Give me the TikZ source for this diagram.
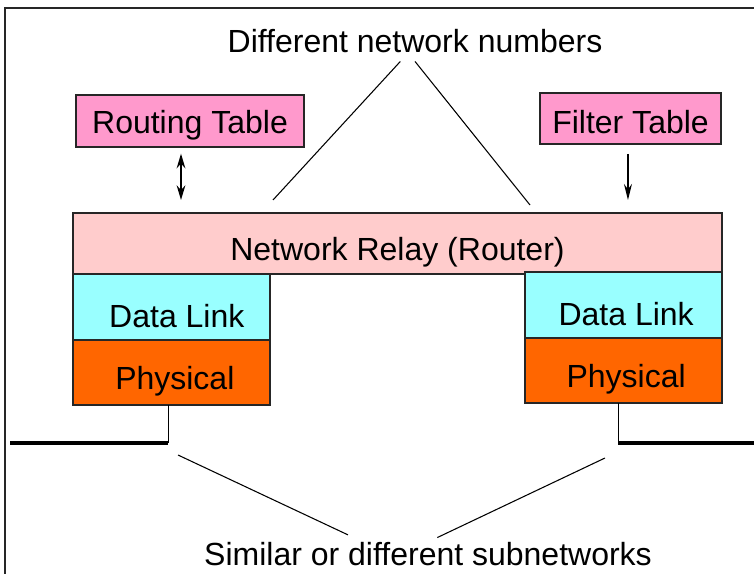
\documentclass[tikz,border=0pt]{standalone}
\usepackage{fontspec}
\setmainfont{Liberation Sans}
\usetikzlibrary{arrows.meta}
\definecolor{tablepink}{HTML}{FF99CC}
\definecolor{relaypink}{HTML}{FFCCCC}
\definecolor{dlcyan}{HTML}{99FFFF}
\definecolor{phyorange}{HTML}{FF6600}
\newcommand\lowered[2]{\raisebox{-#1}[\height][\depth]{#2}}
\begin{document}
\begin{tikzpicture}[x=0.75pt,y=-0.75pt,
  every node/.style={font=\fontsize{24}{28}\selectfont},
  box/.style={draw=black!85,line width=1.2pt,inner sep=0pt,outer sep=0pt,rectangle},
  thin line/.style={line width=0.8pt,black},
  ground/.style={line width=3pt,black},
  arr/.style={line width=1.2pt,-{Stealth[length=12pt,width=6pt]}},
  dblarr/.style={line width=1.4pt,{Stealth[length=11pt,width=6.5pt]}-{Stealth[length=11pt,width=6.5pt]}}]
\useasboundingbox (0,0) rectangle (754,574);
\fill[white] (0,0) rectangle (754,574);
% frame
\draw[line width=1.2pt,black!85] (5,580) -- (5,8) -- (760,8);
% labels
\node (dnn) at (415,41) {Different network numbers};
\node (sdn) at (428,554) {Similar or different subnetworks};
% tables
\node[box,fill=tablepink,minimum width=171pt,minimum height=39pt] (rt) at (190,121) {\lowered{3pt}{Routing Table}};
\node[box,fill=tablepink,minimum width=135.75pt,minimum height=38.25pt] (ft) at (630.5,118.5) {\lowered{3pt}{Filter Table}};
% router stack
\node[box,fill=relaypink,minimum width=486.75pt,minimum height=45.75pt] (relay) at (397.5,243.5) {\lowered{6.75pt}{Network Relay (Router)}};
\node[box,fill=dlcyan,minimum width=147.75pt,minimum height=49.5pt] (dll) at (171.5,307) {\lowered{6.5pt}{\hspace*{8pt}Data Link}};
\node[box,fill=phyorange,minimum width=147.75pt,minimum height=48.75pt] (phl) at (171.5,372.5) {\lowered{6.5pt}{\hspace*{5pt}Physical}};
\node[box,fill=dlcyan,minimum width=147.75pt,minimum height=49.5pt] (dlr) at (623.5,305) {\lowered{6.5pt}{\hspace*{4pt}Data Link}};
\node[box,fill=phyorange,minimum width=147.75pt,minimum height=48.75pt] (phr) at (623.5,370.5) {\lowered{6.5pt}{\hspace*{4pt}Physical}};
% table arrows
\draw[dblarr,shorten <=5pt,shorten >=9.75pt] ([xshift=-6.75pt]rt.south) -- ([xshift=-6.75pt]rt.south |- relay.north);
\draw[arr,shorten <=7.5pt,shorten >=9.75pt] ([xshift=-1.9pt]ft.south) -- ([xshift=-1.9pt]ft.south |- relay.north);
% network-number lines
\coordinate (n1) at (273,200);
\coordinate (n2) at (530,205);
\draw[thin line] ([xshift=-11pt,yshift=-3pt]dnn.south) -- (n1);
\draw[thin line] ([xshift=0pt,yshift=-3pt]dnn.south) -- (n2);
% subnetworks
\coordinate (gl) at (10,443);
\coordinate (gr) at (754,443);
\draw[thin line] ([xshift=-2.6pt]phl.south) -- ([xshift=-2.6pt]phl.south |- gl);
\draw[ground] (gl) -- ([xshift=-2.6pt]phl.south |- gl);
\draw[thin line] ([xshift=-4pt]phr.south) -- ([xshift=-4pt]phr.south |- gr);
\draw[ground] ([xshift=-4pt]phr.south |- gr) -- (gr);
\coordinate (s1) at (178,455);
\coordinate (s2) at (605,458);
\draw[thin line] (s1) -- ([xshift=-60pt,yshift=2pt]sdn.north);
\draw[thin line] (s2) -- ([xshift=7pt,yshift=0pt]sdn.north);
\end{tikzpicture}
\end{document}
